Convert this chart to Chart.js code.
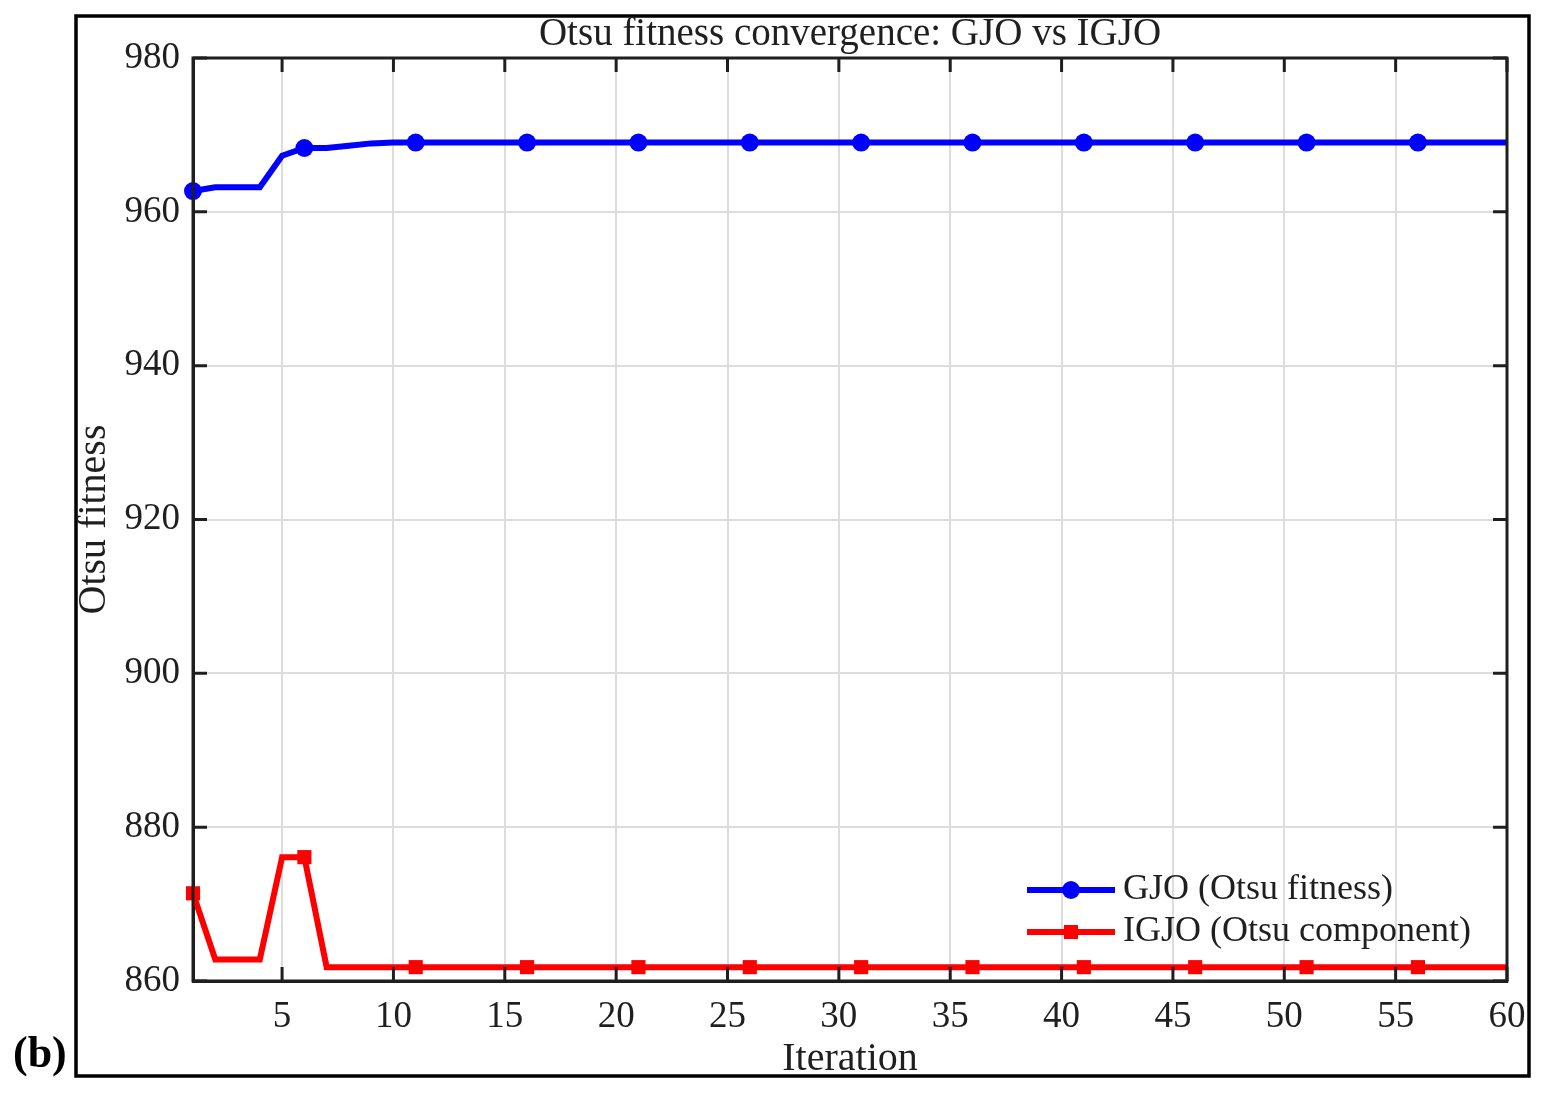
<!DOCTYPE html>
<html><head><meta charset="utf-8">
<script src="https://cdn.jsdelivr.net/npm/chart.js@4.4.1/dist/chart.umd.min.js"></script>
<style>html,body{margin:0;padding:0;background:#fff;}#wrap{width:1544px;height:1095px;position:relative;}</style>
</head><body><div id="wrap"><canvas id="c" width="1544" height="1095"></canvas></div>
<script>
const iterations = Array.from({length:60},(_,i)=>i+1);
const gjoValues = [962.7,963.2,963.2,963.2,967.3,968.3,968.3,968.6,968.9,969.0,
  969.0,969.0,969.0,969.0,969.0,969.0,969.0,969.0,969.0,969.0,
  969.0,969.0,969.0,969.0,969.0,969.0,969.0,969.0,969.0,969.0,
  969.0,969.0,969.0,969.0,969.0,969.0,969.0,969.0,969.0,969.0,
  969.0,969.0,969.0,969.0,969.0,969.0,969.0,969.0,969.0,969.0,
  969.0,969.0,969.0,969.0,969.0,969.0,969.0,969.0,969.0,969.0];
const igjoValues = [871.4,862.8,862.8,862.8,876.1,876.1,861.8,861.8,861.8,861.8,
  861.8,861.8,861.8,861.8,861.8,861.8,861.8,861.8,861.8,861.8,
  861.8,861.8,861.8,861.8,861.8,861.8,861.8,861.8,861.8,861.8,
  861.8,861.8,861.8,861.8,861.8,861.8,861.8,861.8,861.8,861.8,
  861.8,861.8,861.8,861.8,861.8,861.8,861.8,861.8,861.8,861.8,
  861.8,861.8,861.8,861.8,861.8,861.8,861.8,861.8,861.8,861.8];
const xTickValues = [5,10,15,20,25,30,35,40,45,50,55,60];
const yTickValues = [860,880,900,920,940,960,980];
const seriesNames = ['GJO (Otsu fitness)','IGJO (Otsu component)'];
const titleText = 'Otsu fitness convergence: GJO vs IGJO';
const xTitle = 'Iteration';
const yTitle = 'Otsu fitness';
const panelLabel = '(b)';

const FONT = '"Liberation Serif","Times New Roman",serif';
const TXT = '#1f1f1f';

const decor = {
  id:'decor',
  afterDraw(chart){
    const ctx = chart.ctx, a = chart.chartArea;
    const xs = chart.scales.x, ys = chart.scales.y;
    ctx.save();
    ctx.strokeStyle = TXT; ctx.lineWidth = 3;
    ctx.strokeRect(a.left, a.top, a.right-a.left, a.bottom-a.top);
    const tl = 14;
    ctx.beginPath();
    xTickValues.forEach(v=>{
      const px = xs.getPixelForValue(v);
      ctx.moveTo(px,a.bottom); ctx.lineTo(px,a.bottom-tl);
      ctx.moveTo(px,a.top); ctx.lineTo(px,a.top+tl);
    });
    yTickValues.forEach(v=>{
      const py = ys.getPixelForValue(v);
      ctx.moveTo(a.left,py); ctx.lineTo(a.left+tl,py);
      ctx.moveTo(a.right,py); ctx.lineTo(a.right-tl,py);
    });
    ctx.stroke();
    ctx.strokeStyle = '#000'; ctx.lineWidth = 3.5;
    ctx.strokeRect(76,16,1529-76,1076-16);
    ctx.fillStyle = TXT;
    ctx.font = '39px '+FONT;
    ctx.textAlign='center'; ctx.textBaseline='middle';
    ctx.fillText(titleText,(a.left+a.right)/2,35);
    ctx.font = '40px '+FONT;
    ctx.fillText(xTitle,(a.left+a.right)/2,1059);
    ctx.save();
    ctx.translate(94,(a.top+a.bottom)/2);
    ctx.rotate(-Math.PI/2);
    ctx.fillText(yTitle,0,0);
    ctx.restore();
    ctx.fillStyle='#000';
    ctx.font='bold 44px '+FONT;
    ctx.textAlign='left';
    ctx.fillText(panelLabel,13,1056);
    const ds = chart.data.datasets;
    const rows = [890,932];
    ds.forEach((d,i)=>{
      const y = rows[i];
      ctx.strokeStyle=d.borderColor; ctx.lineWidth=6;
      ctx.beginPath(); ctx.moveTo(1027,y); ctx.lineTo(1115,y); ctx.stroke();
      ctx.fillStyle=d.borderColor;
      if(i===0){ctx.beginPath();ctx.arc(1071,y,9,0,Math.PI*2);ctx.fill();}
      else{ctx.fillRect(1071-7,y-7,14,14);}
      ctx.fillStyle=TXT; ctx.font='36px '+FONT; ctx.textAlign='left'; ctx.textBaseline='middle';
      ctx.fillText(seriesNames[i],1123,y);
    });
    ctx.restore();
  }
};

new Chart(document.getElementById('c'),{
  type:'line',
  data:{
    datasets:[
      {label:seriesNames[0],data:iterations.map((x,i)=>({x,y:gjoValues[i]})),
       borderColor:'#0000ff',backgroundColor:'#0000ff',borderWidth:6,clip:false,
       pointStyle:'circle',pointRadius:c=>c.dataIndex%5===0?9:0,pointHoverRadius:0,tension:0,
       pointBorderWidth:0},
      {label:seriesNames[1],data:iterations.map((x,i)=>({x,y:igjoValues[i]})),
       borderColor:'#ff0000',backgroundColor:'#ff0000',borderWidth:6,clip:false,
       pointStyle:'rect',pointRadius:c=>c.dataIndex%5===0?10:0,pointHoverRadius:0,tension:0,
       pointBorderWidth:0}
    ]
  },
  options:{
    responsive:false,animation:false,
    layout:{padding:{left:0,top:58,right:37,bottom:0}},
    plugins:{legend:{display:false},title:{display:false},tooltip:{enabled:false}},
    scales:{
      x:{type:'linear',min:1,max:60,
        afterBuildTicks:s=>{s.ticks=xTickValues.map(v=>({value:v}));},
        afterFit:s=>{s.height=114;},
        grid:{color:'#dddddd',lineWidth:2,drawTicks:false},
        border:{display:true,color:TXT,width:3},
        ticks:{color:TXT,font:{family:FONT,size:37},padding:14,maxRotation:0,autoSkip:false}
      },
      y:{type:'linear',min:860,max:980,
        afterBuildTicks:s=>{s.ticks=yTickValues.map(v=>({value:v}));},
        afterFit:s=>{s.width=193;},
        grid:{color:'#dddddd',lineWidth:2,drawTicks:false},
        border:{display:true,color:TXT,width:3},
        ticks:{color:TXT,font:{family:FONT,size:37},padding:13}
      }
    }
  },
  plugins:[decor]
});
</script></body></html>
